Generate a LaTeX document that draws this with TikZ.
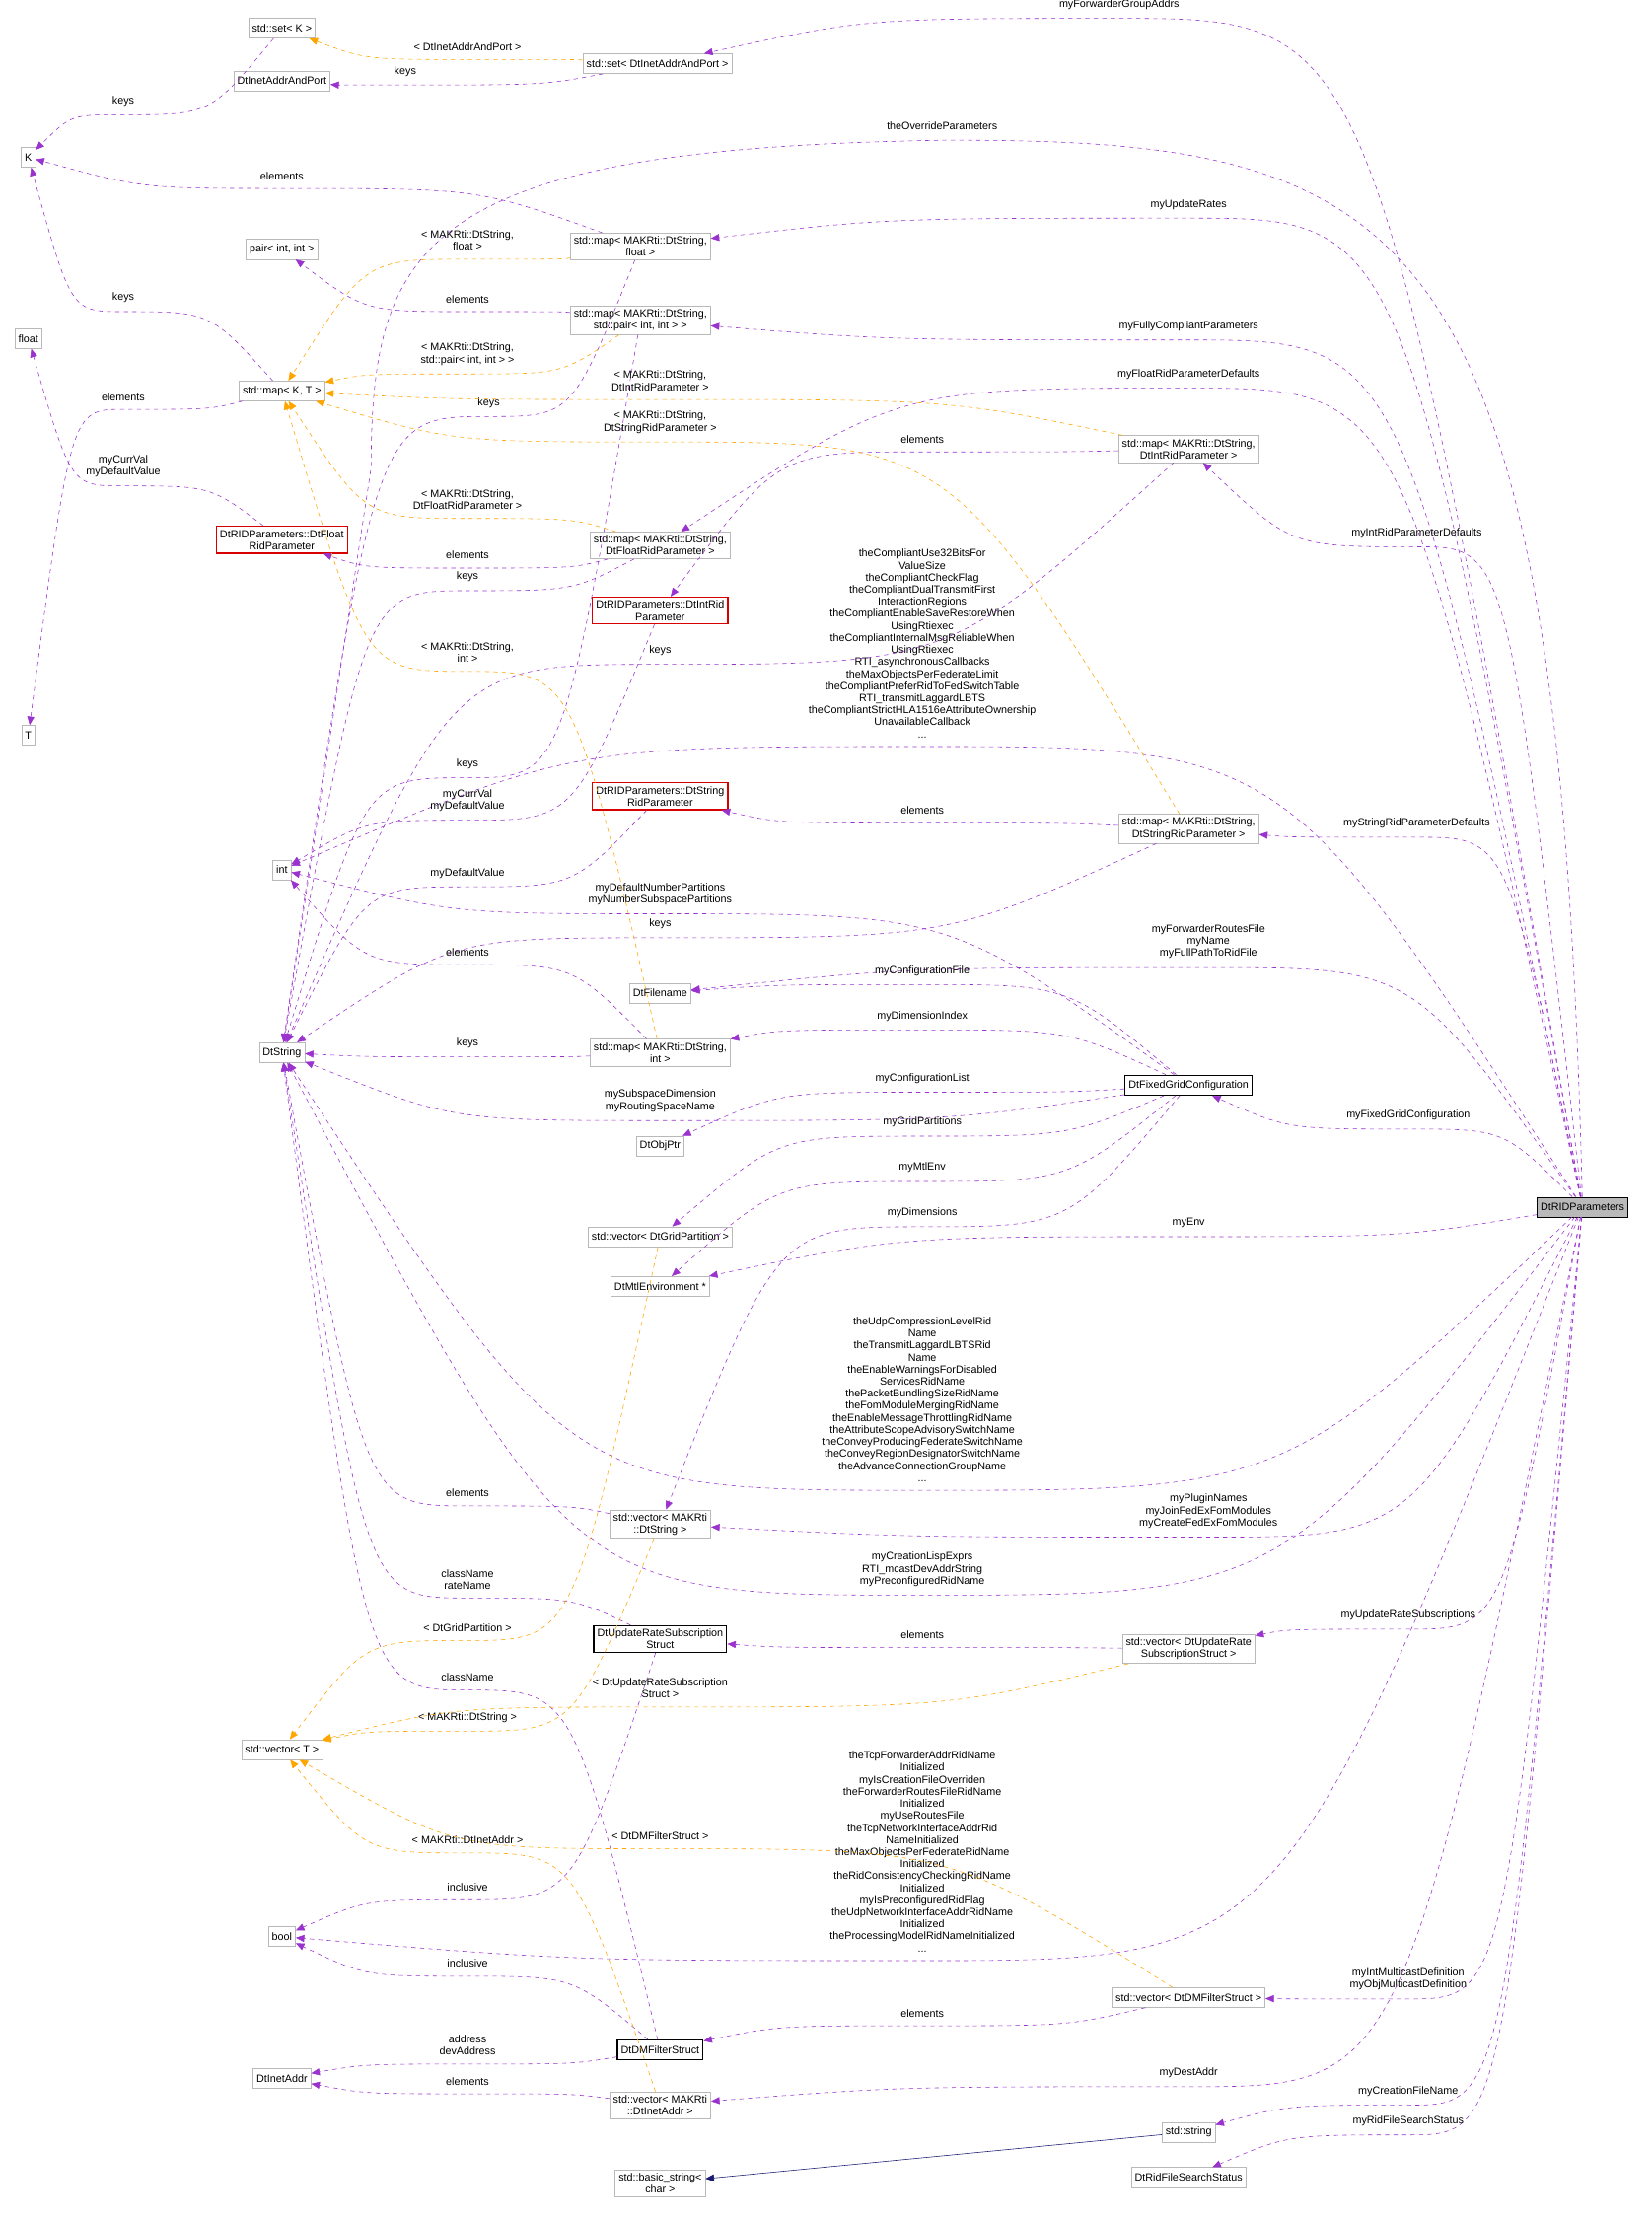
\documentclass[tikz,border=0pt]{standalone}
\usepackage{fontspec}
\setmainfont{Liberation Sans}
\usetikzlibrary{calc,arrows.meta}
\definecolor{pur}{HTML}{9A32CD}
\definecolor{org}{HTML}{FFA500}
\definecolor{nav}{HTML}{191970}
\tikzset{
 box/.style={draw=gray!55,rectangle,inner sep=2.5pt,minimum height=14pt,align=center,font=\fontsize{7.5}{8.5}\selectfont},
 rbox/.style={box,draw=red!85!black,thick},
 kbox/.style={box,draw=black,thick},
 e/.style={draw=pur,dashed,-{Triangle[length=6pt,width=5pt]}},
 t/.style={draw=org,dashed,-{Triangle[length=6pt,width=5pt]}},
 lb/.style={align=center,font=\fontsize{7.5}{8.5}\selectfont,inner sep=0pt}
}
\newcommand\Ed[6]{%
 \coordinate (P) at (#4,-#5-6);
 \coordinate (c1) at ($(P)!0.55!(#2)$);
 \coordinate (c2) at ($(P)!0.55!(#3)$);
 \draw[#1] (#2) .. controls (c1 |- P) .. (P) .. controls (c2 |- P) .. (#3);
 \node[lb,anchor=south] at (#4,-#5) {#6};}
\begin{document}
\begin{tikzpicture}[x=1pt,y=1pt]
\useasboundingbox (0,0) rectangle (1166,-1565);
\node[box] (setK) at (199,-20) {std::set< K >};
\node[box] (DtIAP) at (199,-57) {DtInetAddrAndPort};
\node[box] (setDt) at (464,-45) {std::set< DtInetAddrAndPort >};
\node[box] (K) at (20,-111) {K};
\node[box] (float) at (20,-239) {float};
\node[box] (pair) at (199,-176) {pair< int, int >};
\node[box] (mapF) at (452,-174) {std::map< MAKRti::DtString,\\float >};
\node[box] (mapP) at (452,-226) {std::map< MAKRti::DtString,\\std::pair< int, int > >};
\node[box] (mapKT) at (199,-276) {std::map< K, T >};
\node[box] (mapI) at (839,-317) {std::map< MAKRti::DtString,\\DtIntRidParameter >};
\node[rbox] (floatRP) at (199,-381) {DtRIDParameters::DtFloat\\RidParameter};
\node[box] (mapFR) at (466,-385) {std::map< MAKRti::DtString,\\DtFloatRidParameter >};
\node[rbox] (intRP) at (466,-431) {DtRIDParameters::DtIntRid\\Parameter};
\node[box] (T) at (20,-519) {T};
\node[rbox] (strRP) at (466,-562) {DtRIDParameters::DtString\\RidParameter};
\node[box] (int) at (199,-614) {int};
\node[box] (mapS) at (839,-585) {std::map< MAKRti::DtString,\\DtStringRidParameter >};
\node[box] (DtFilename) at (466,-701) {DtFilename};
\node[box] (DtString) at (199,-743) {DtString};
\node[box] (mapInt) at (466,-743) {std::map< MAKRti::DtString,\\int >};
\node[kbox] (Fixed) at (839,-766) {DtFixedGridConfiguration};
\node[box] (ObjPtr) at (466,-809) {DtObjPtr};
\node[box] (vecGP) at (466,-873) {std::vector< DtGridPartition >};
\node[box] (Mtl) at (466,-908) {DtMtlEnvironment *};
\node[box,fill=gray!55,draw=black] (R) at (1117,-852) {DtRIDParameters};
\node[box] (vecS) at (466,-1076) {std::vector< MAKRti\\::DtString >};
\node[kbox] (Upd) at (466,-1157) {DtUpdateRateSubscription\\Struct};
\node[box] (vecU) at (839,-1164) {std::vector< DtUpdateRate\\SubscriptionStruct >};
\node[box] (vecT) at (199,-1235) {std::vector< T >};
\node[box] (bool) at (199,-1367) {bool};
\node[box] (vecDM) at (839,-1410) {std::vector< DtDMFilterStruct >};
\node[kbox] (DMF) at (466,-1447) {DtDMFilterStruct};
\node[box] (InetAddr) at (199,-1467) {DtInetAddr};
\node[box] (vecIA) at (466,-1486) {std::vector< MAKRti\\::DtInetAddr >};
\node[box] (sstr) at (839,-1505) {std::string};
\node[box] (basic) at (466,-1541) {std::basic\_string<\\char >};
\node[box] (RFS) at (839,-1537) {DtRidFileSearchStatus};

% from R
\Ed{e}{R}{setDt}{790}{7}{myForwarderGroupAddrs}
\draw[e] (R) .. controls (1100,-150) and (1000,-98) .. (665,-99) .. controls (300,-105) and (262,-170) .. (262,-330) -- (DtString);
\node[lb,anchor=south] at (665,-92) {theOverrideParameters};
\Ed{e}{R}{mapF}{839}{148}{myUpdateRates}
\Ed{e}{R}{mapP}{839}{234}{myFullyCompliantParameters}
\Ed{e}{R}{mapFR}{839}{268}{myFloatRidParameterDefaults}
\Ed{e}{R}{mapI}{1000}{380}{myIntRidParameterDefaults}
\Ed{e}{R}{int}{651}{521}{theCompliantUse32BitsFor\\ValueSize\\theCompliantCheckFlag\\theCompliantDualTransmitFirst\\InteractionRegions\\theCompliantEnableSaveRestoreWhen\\UsingRtiexec\\theCompliantInternalMsgReliableWhen\\UsingRtiexec\\RTI\_asynchronousCallbacks\\theMaxObjectsPerFederateLimit\\theCompliantPreferRidToFedSwitchTable\\RTI\_transmitLaggardLBTS\\theCompliantStrictHLA1516eAttributeOwnership\\UnavailableCallback\\...}
\Ed{e}{R}{mapS}{1000}{585}{myStringRidParameterDefaults}
\Ed{e}{R}{DtFilename}{853}{677}{myForwarderRoutesFile\\myName\\myFullPathToRidFile}
\Ed{e}{R}{Fixed}{994}{791}{myFixedGridConfiguration}
\Ed{e}{R}{Mtl}{839}{867}{myEnv}
\Ed{e}{R}{DtString}{651}{1046}{theUdpCompressionLevelRid\\Name\\theTransmitLaggardLBTSRid\\Name\\theEnableWarningsForDisabled\\ServicesRidName\\thePacketBundlingSizeRidName\\theFomModuleMergingRidName\\theEnableMessageThrottlingRidName\\theAttributeScopeAdvisorySwitchName\\theConveyProducingFederateSwitchName\\theConveyRegionDesignatorSwitchName\\theAdvanceConnectionGroupName\\...}
\Ed{e}{R}{vecS}{853}{1079}{myPluginNames\\myJoinFedExFomModules\\myCreateFedExFomModules}
\Ed{e}{R}{DtString}{651}{1120}{myCreationLispExprs\\RTI\_mcastDevAddrString\\myPreconfiguredRidName}
\Ed{e}{R}{vecU}{994}{1144}{myUpdateRateSubscriptions}
\Ed{e}{R}{bool}{651}{1378}{theTcpForwarderAddrRidName\\Initialized\\myIsCreationFileOverriden\\theForwarderRoutesFileRidName\\Initialized\\myUseRoutesFile\\theTcpNetworkInterfaceAddrRid\\NameInitialized\\theMaxObjectsPerFederateRidName\\Initialized\\theRidConsistencyCheckingRidName\\Initialized\\myIsPreconfiguredRidFlag\\theUdpNetworkInterfaceAddrRidName\\Initialized\\theProcessingModelRidNameInitialized\\...}
\Ed{e}{R}{vecDM}{994}{1405}{myIntMulticastDefinition\\myObjMulticastDefinition}
\Ed{e}{R}{vecIA}{839}{1467}{myDestAddr}
\Ed{e}{R}{sstr}{994}{1480}{myCreationFileName}
\Ed{e}{R}{RFS}{994}{1501}{myRidFileSearchStatus}

% internal purple
\Ed{e}{setK}{K}{87}{75}{keys}
\Ed{e}{setDt}{DtIAP}{286}{54}{keys}
\Ed{e}{mapF}{K}{199}{127}{elements}
\Ed{e}{mapF}{DtString}{345}{288}{keys}
\Ed{e}{mapP}{pair}{330}{214}{elements}
\Ed{e}{mapP}{DtString}{330}{543}{keys}
\Ed{e}{mapKT}{K}{87}{214}{keys}
\Ed{e}{mapKT}{T}{87}{283}{elements}
\Ed{e}{floatRP}{float}{87}{337}{myCurrVal\\myDefaultValue}
\Ed{e}{mapFR}{floatRP}{330}{395}{elements}
\Ed{e}{mapFR}{DtString}{330}{411}{keys}
\Ed{e}{intRP}{int}{330}{573}{myCurrVal\\myDefaultValue}
\Ed{e}{mapI}{intRP}{651}{313}{elements}
\Ed{e}{mapI}{DtString}{466}{463}{keys}
\Ed{e}{strRP}{DtString}{330}{620}{myDefaultValue}
\Ed{e}{mapS}{strRP}{651}{575}{elements}
\Ed{e}{mapS}{DtString}{466}{656}{keys}
\Ed{e}{Fixed}{int}{466}{639}{myDefaultNumberPartitions\\myNumberSubspacePartitions}
\Ed{e}{mapInt}{int}{330}{675}{elements}
\Ed{e}{mapInt}{DtString}{330}{740}{keys}
\Ed{e}{Fixed}{DtFilename}{651}{689}{myConfigurationFile}
\Ed{e}{Fixed}{mapInt}{651}{721}{myDimensionIndex}
\Ed{e}{Fixed}{DtString}{466}{785}{mySubspaceDimension\\myRoutingSpaceName}
\Ed{e}{Fixed}{ObjPtr}{651}{765}{myConfigurationList}
\Ed{e}{Fixed}{vecGP}{651}{796}{myGridPartitions}
\Ed{e}{Fixed}{Mtl}{651}{828}{myMtlEnv}
\Ed{e}{Fixed}{vecS}{651}{860}{myDimensions}
\Ed{e}{vecS}{DtString}{330}{1057}{elements}
\Ed{e}{Upd}{DtString}{330}{1122}{className\\rateName}
\Ed{e}{vecU}{Upd}{651}{1157}{elements}
\Ed{e}{DMF}{DtString}{330}{1187}{className}
\Ed{e}{Upd}{bool}{330}{1335}{inclusive}
\Ed{e}{DMF}{bool}{330}{1389}{inclusive}
\Ed{e}{DMF}{InetAddr}{330}{1451}{address\\devAddress}
\Ed{e}{vecIA}{InetAddr}{330}{1472}{elements}
\Ed{e}{vecDM}{DMF}{651}{1424}{elements}
\draw[nav,-{Triangle[length=6pt,width=5pt]}] (sstr) -- (basic);

% templates
\Ed{t}{setDt}{setK}{330}{36}{< DtInetAddrAndPort >}
\Ed{t}{mapF}{mapKT}{330}{177}{< MAKRti::DtString,\\float >}
\Ed{t}{mapP}{mapKT}{330}{258}{< MAKRti::DtString,\\std::pair< int, int > >}
\Ed{t}{mapI}{mapKT}{466}{276}{< MAKRti::DtString,\\DtIntRidParameter >}
\Ed{t}{mapS}{mapKT}{466}{306}{< MAKRti::DtString,\\DtStringRidParameter >}
\Ed{t}{mapFR}{mapKT}{330}{360}{< MAKRti::DtString,\\DtFloatRidParameter >}
\Ed{t}{mapInt}{mapKT}{330}{468}{< MAKRti::DtString,\\int >}
\Ed{t}{vecGP}{vecT}{330}{1152}{< DtGridPartition >}
\Ed{t}{vecS}{vecT}{330}{1216}{< MAKRti::DtString >}
\Ed{t}{vecU}{vecT}{466}{1199}{< DtUpdateRateSubscription\\Struct >}
\Ed{t}{vecDM}{vecT}{466}{1299}{< DtDMFilterStruct >}
\Ed{t}{vecIA}{vecT}{330}{1302}{< MAKRti::DtInetAddr >}
\end{tikzpicture}
\end{document}
